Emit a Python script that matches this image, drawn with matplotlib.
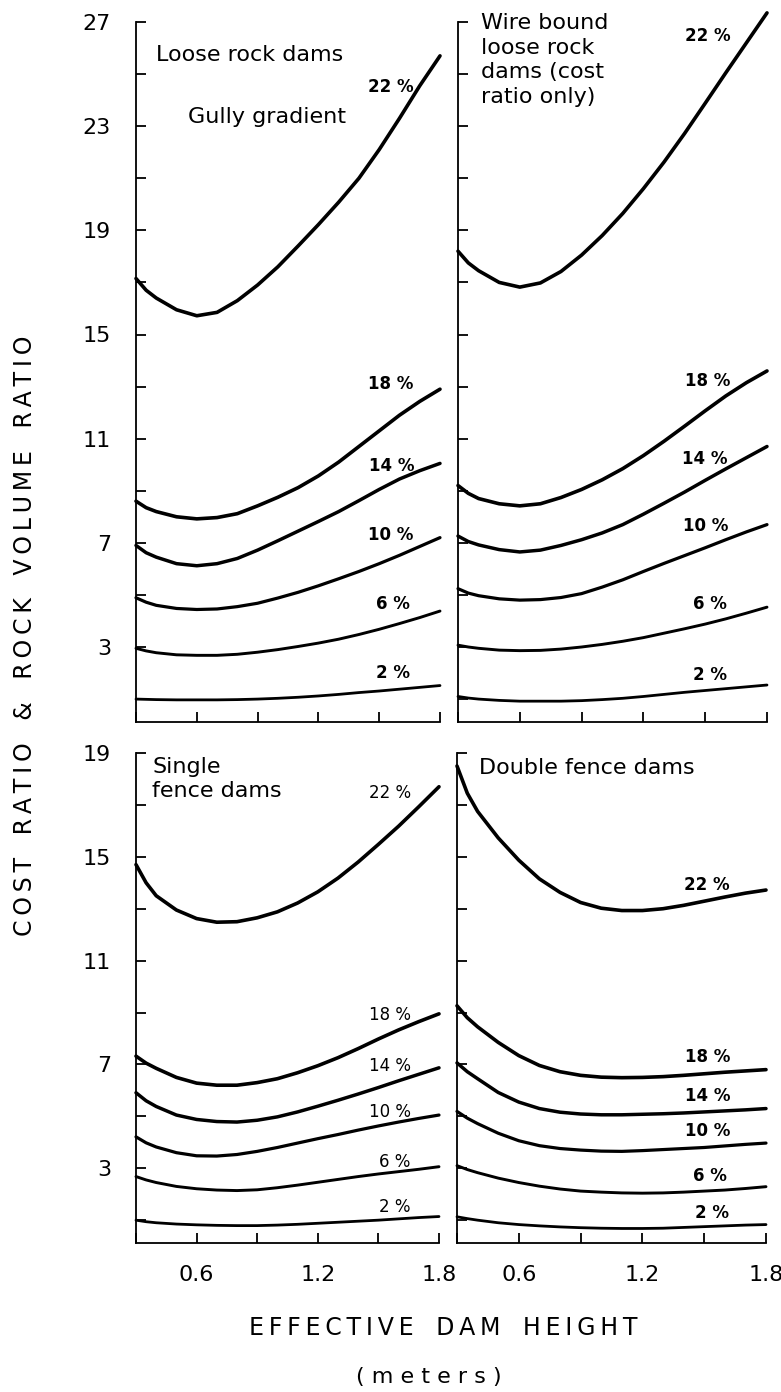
import matplotlib
matplotlib.use("Agg")
import matplotlib.pyplot as plt

plt.rcParams['font.family'] = ['DejaVu Sans']

# ---------------- data ----------------
x_height = [0.30, 0.35, 0.40, 0.50, 0.60, 0.70, 0.80, 0.90, 1.00,
            1.10, 1.20, 1.30, 1.40, 1.50, 1.60, 1.70, 1.80]
gradients = ["22 %", "18 %", "14 %", "10 %", "6 %", "2 %"]

loose_rock = [
    [17.15, 16.7, 16.4, 15.95, 15.72, 15.85, 16.3, 16.9, 17.6, 18.4, 19.22, 20.08, 21.0, 22.1, 23.3, 24.55, 25.7],
    [8.6, 8.35, 8.2, 8.0, 7.92, 7.97, 8.12, 8.42, 8.75, 9.12, 9.57, 10.1, 10.7, 11.3, 11.9, 12.43, 12.9],
    [6.9, 6.62, 6.45, 6.2, 6.12, 6.2, 6.4, 6.72, 7.08, 7.45, 7.82, 8.2, 8.62, 9.05, 9.45, 9.77, 10.05],
    [4.89, 4.72, 4.6, 4.48, 4.44, 4.46, 4.55, 4.68, 4.88, 5.1, 5.35, 5.62, 5.9, 6.2, 6.52, 6.86, 7.2],
    [2.95, 2.85, 2.78, 2.7, 2.68, 2.68, 2.72, 2.8, 2.9, 3.02, 3.15, 3.3, 3.48, 3.68, 3.9, 4.13, 4.38],
    [1.0, 0.99, 0.98, 0.97, 0.97, 0.97, 0.98, 1.0, 1.03, 1.07, 1.12, 1.18, 1.25, 1.31, 1.38, 1.45, 1.52],
]
wire_bound = [
    [18.2, 17.75, 17.45, 17.0, 16.82, 16.98, 17.42, 18.05, 18.8, 19.65, 20.6, 21.62, 22.72, 23.88, 25.05, 26.2, 27.35],
    [9.2, 8.9, 8.7, 8.5, 8.42, 8.5, 8.74, 9.05, 9.42, 9.85, 10.35, 10.9, 11.48, 12.07, 12.64, 13.15, 13.6],
    [7.26, 7.05, 6.92, 6.74, 6.65, 6.72, 6.9, 7.12, 7.38, 7.7, 8.1, 8.52, 8.95, 9.4, 9.84, 10.27, 10.7],
    [5.24, 5.07, 4.97, 4.85, 4.8, 4.82, 4.9, 5.05, 5.3, 5.58, 5.9, 6.21, 6.51, 6.81, 7.12, 7.42, 7.7],
    [3.07, 3.0, 2.95, 2.88, 2.86, 2.87, 2.92, 3.0, 3.1, 3.22, 3.36, 3.53, 3.7, 3.88, 4.08, 4.3, 4.53],
    [1.1, 1.04, 1.0, 0.95, 0.92, 0.92, 0.92, 0.94, 0.98, 1.03, 1.1, 1.18, 1.26, 1.33, 1.4, 1.47, 1.54],
]
single_fence = [
    [14.7, 14.0, 13.5, 12.95, 12.62, 12.48, 12.5, 12.65, 12.88, 13.22, 13.65, 14.18, 14.8, 15.48, 16.18, 16.93, 17.7],
    [7.32, 7.05, 6.85, 6.5, 6.28, 6.2, 6.2, 6.3, 6.45, 6.68, 6.95, 7.26, 7.61, 7.98, 8.33, 8.65, 8.95],
    [5.91, 5.6, 5.38, 5.05, 4.88, 4.8, 4.78, 4.85, 4.98, 5.17, 5.39, 5.62, 5.86, 6.11, 6.37, 6.62, 6.87],
    [4.21, 3.98, 3.82, 3.6, 3.48, 3.47, 3.53, 3.65, 3.8, 3.97, 4.14, 4.3, 4.47, 4.63, 4.78, 4.92, 5.05],
    [2.68, 2.55, 2.45, 2.3, 2.21, 2.16, 2.14, 2.17, 2.25, 2.35, 2.46, 2.57, 2.68, 2.78, 2.87, 2.96, 3.06],
    [1.0, 0.94, 0.9, 0.85, 0.82, 0.8, 0.79, 0.79, 0.81, 0.84, 0.88, 0.92, 0.96, 1.0, 1.05, 1.1, 1.14],
]
double_fence = [
    [18.5, 17.45, 16.75, 15.73, 14.87, 14.15, 13.63, 13.24, 13.02, 12.93, 12.93, 13.0, 13.13, 13.29, 13.45, 13.6, 13.72],
    [9.26, 8.8, 8.45, 7.85, 7.34, 6.96, 6.72, 6.58, 6.51, 6.49, 6.5, 6.53, 6.58, 6.64, 6.7, 6.75, 6.8],
    [7.06, 6.72, 6.45, 5.92, 5.55, 5.3, 5.16, 5.09, 5.06, 5.06, 5.08, 5.1, 5.13, 5.17, 5.21, 5.25, 5.3],
    [5.19, 4.93, 4.72, 4.35, 4.06, 3.87, 3.76, 3.7, 3.66, 3.65, 3.68, 3.72, 3.76, 3.8, 3.86, 3.92, 3.97],
    [3.1, 2.95, 2.83, 2.62, 2.45, 2.31, 2.2, 2.12, 2.08, 2.05, 2.04, 2.05, 2.08, 2.12, 2.16, 2.22, 2.29],
    [1.13, 1.06, 1.0, 0.9, 0.83, 0.78, 0.74, 0.71, 0.69, 0.68, 0.68, 0.69, 0.72, 0.75, 0.78, 0.81, 0.83],
]

top_ytick_labels = [3, 7, 11, 15, 19, 23, 27]
bottom_ytick_labels = [3, 7, 11, 15, 19]
xtick_labels = ["0.6", "1.2", "1.8"]

panel_titles = ["Loose rock dams",
                "Wire bound\nloose rock\ndams (cost\nratio only)",
                "Single\nfence dams",
                "Double fence dams"]

# ---------------- layout ----------------
W, H = 781, 1392
fig = plt.figure(figsize=(W / 100, H / 100), dpi=100)

def px_axes(x0, x1, ytop, ybot):
    return [x0 / W, 1 - ybot / H, (x1 - x0) / W, (ybot - ytop) / H]

ax_tl = fig.add_axes(px_axes(136, 440, 22, 722))
ax_tr = fig.add_axes(px_axes(458, 767, 22, 722))
ax_bl = fig.add_axes(px_axes(136, 439, 753, 1243))
ax_br = fig.add_axes(px_axes(457, 766, 753, 1243))

panels = [(ax_tl, loose_rock, True, True),
          (ax_tr, wire_bound, True, False),
          (ax_bl, single_fence, False, True),
          (ax_br, double_fence, False, False)]

# gradient label placements (data coords)
label_pos = {
    0: [(1.555, 24.5), (1.555, 13.1), (1.563, 9.95), (1.555, 7.3), (1.57, 4.65), (1.57, 2.0)],
    1: [(1.511, 26.47), (1.51, 13.2), (1.50, 10.2), (1.50, 7.65), (1.525, 4.65), (1.525, 1.92)],
    2: [(1.556, 17.46), (1.556, 8.9), (1.556, 6.95), (1.556, 5.15), (1.58, 3.25), (1.58, 1.5)],
    3: [(1.515, 13.9), (1.515, 7.3), (1.515, 5.8), (1.515, 4.45), (1.53, 2.7), (1.54, 1.28)],
}
line_widths = [2.6, 2.6, 2.5, 2.3, 2.1, 2.0]

for i, (ax, series, is_top, show_ylab) in enumerate(panels):
    top = 27 if is_top else 19
    labelled = top_ytick_labels if is_top else bottom_ytick_labels
    ax.set_xlim(0.3, 1.8)
    ax.set_ylim(0.12, top)
    for s in ["top", "right"]:
        ax.spines[s].set_visible(False)
    for s in ["left", "bottom"]:
        ax.spines[s].set_linewidth(1.3)
    yt = list(range(1, top + 1, 2))
    ax.set_yticks(yt)
    ax.set_yticklabels([str(v) if v in labelled else "" for v in yt] if show_ylab else [])
    ax.set_xticks([0.3, 0.6, 0.9, 1.2, 1.5, 1.8])
    if is_top:
        ax.set_xticklabels([])
    else:
        ax.set_xticklabels(["", xtick_labels[0], "", xtick_labels[1], "", xtick_labels[2]])
    ax.tick_params(axis="both", direction="in", length=7, width=1.3,
                   labelsize=16, color="black")
    ax.tick_params(axis="y", pad=18)
    ax.tick_params(axis="x", pad=16)
    ax.patch.set_alpha(0)

    for k, ys in enumerate(series):
        ax.plot(x_height, ys, color="black", lw=line_widths[k],
                solid_capstyle="round", solid_joinstyle="round", clip_on=False)
        lx, ly = label_pos[i][k]
        ax.text(lx, ly, gradients[k], ha="center", va="center",
                fontsize=12, fontweight="bold" if i != 2 else "normal")

# panel titles
ax_tl.text(0.40, 25.75, panel_titles[0], fontsize=16, ha="left", va="center")
ax_tl.text(0.555, 23.35, "Gully gradient", fontsize=16, ha="left", va="center")
ax_tr.text(0.41, 27.35, panel_titles[1], fontsize=16, ha="left", va="top", linespacing=1.3)
ax_bl.text(0.38, 18.85, panel_titles[2], fontsize=16, ha="left", va="top", linespacing=1.25)
ax_br.text(0.405, 18.42, panel_titles[3], fontsize=16, ha="left", va="center")

thin = "\u2009"
def spaced(s):
    words = s.split(" ")
    return "   ".join(thin.join(list(w)) for w in words)

fig.text(443 / W, 1 - 1328 / H, spaced("EFFECTIVE DAM HEIGHT"), fontsize=17,
         ha="center", va="center")
fig.text(429 / W, 1 - 1377 / H, "( m e t e r s )", fontsize=16,
         ha="center", va="center")
fig.text(25 / W, 1 - 636 / H, spaced("COST RATIO & ROCK VOLUME RATIO"),
         fontsize=17, ha="center", va="center", rotation=90)

fig.savefig("out.png", dpi=100, facecolor="white")
